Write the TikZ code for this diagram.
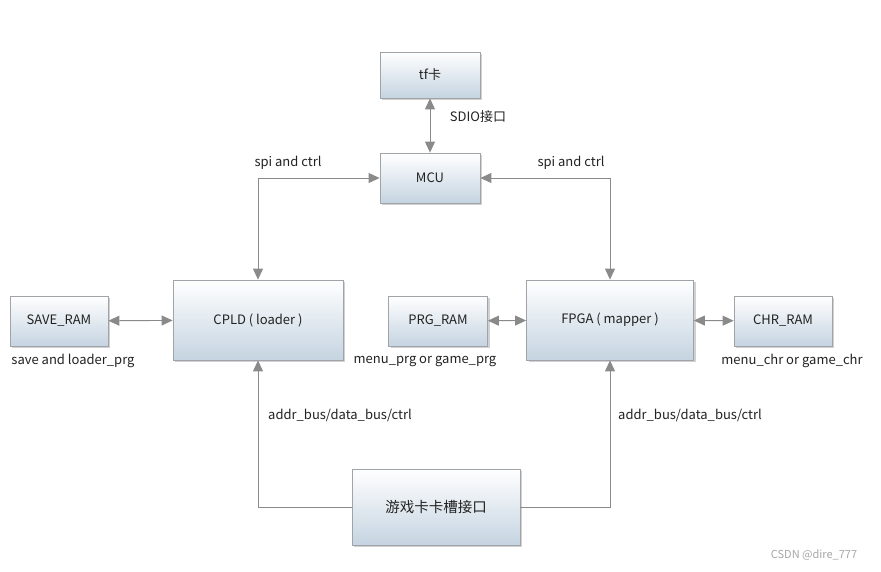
\documentclass[tikz,border=0pt]{standalone}
\usepackage{fontspec}
\setmainfont{Noto Sans CJK SC}
\usetikzlibrary{arrows.meta,shadows}
\definecolor{boxedge}{HTML}{A0A4A8}
\definecolor{boxbot}{HTML}{C5D4E1}
\definecolor{linec}{HTML}{8A8A8A}
\definecolor{txt}{HTML}{222222}
\tikzset{
  blk/.style={draw=boxedge, line width=0.8pt, top color=white, bottom color=boxbot,
    drop shadow={shadow xshift=2pt, shadow yshift=-2pt, fill=black, opacity=0.18},
    text=txt, font=\fontsize{13}{15}\selectfont, inner sep=0pt, anchor=center},
  conn/.style={draw=linec, line width=0.9pt},
  tip/.style={-{Triangle[length=11pt,width=10pt,fill=linec]}},
  btip/.style={{Triangle[length=11pt,width=10pt,fill=linec]}-{Triangle[length=11pt,width=10pt,fill=linec]}},
  lbl/.style={text=txt, font=\fontsize{13}{15}\selectfont, inner sep=0pt}
}
\begin{document}
\begin{tikzpicture}[x=1pt,y=-1pt]
\useasboundingbox (0,0) rectangle (881,571);
\node[blk, minimum width=100pt, minimum height=46pt] (tf) at (430,75) {tf卡};
\node[blk, minimum width=100pt, minimum height=50pt] (mcu) at (430,178) {MCU};
\node[blk, minimum width=98pt, minimum height=50pt] (save) at (59,321) {SAVE\_RAM};
\node[blk, minimum width=170pt, minimum height=80pt] (cpld) at (258,320) {CPLD ( loader )};
\node[blk, minimum width=99pt, minimum height=50pt] (prg) at (438,321) {PRG\_RAM};
\node[blk, minimum width=167pt, minimum height=80pt] (fpga) at (610,320) {FPGA ( mapper )};
\node[blk, minimum width=98pt, minimum height=50pt] (chr) at (783,321) {CHR\_RAM};
\node[blk, minimum width=168pt, minimum height=76pt, font=\fontsize{14.5}{16}\selectfont] (slot) at (436,507) {游戏卡卡槽接口};

\draw[conn, btip] (tf) -- (mcu);
\node[lbl] (sdio) at (478,117) {SDIO接口};

\draw[conn, btip] (mcu.west) -| (cpld.north);
\node[lbl] (spiL) at (288,163) {spi and ctrl};
\draw[conn, btip] (mcu.east) -| (fpga.north);
\node[lbl] (spiR) at (571,163) {spi and ctrl};

\draw[conn, btip] (save) -- (cpld);
\draw[conn, btip] (prg) -- (fpga);
\draw[conn, btip] (fpga) -- (chr);

\draw[conn, tip] (slot.west) -| (cpld.south);
\draw[conn, tip] (slot.east) -| (fpga.south);
\node[lbl] (abL) at (340,415) {addr\_bus/data\_bus/ctrl};
\node[lbl] (abR) at (690,415) {addr\_bus/data\_bus/ctrl};

\node[lbl] (l1) at (73,361) {save and loader\_prg};
\node[lbl] (l2) at (425,361) {menu\_prg or game\_prg};
\node[lbl] (l3) at (792,361) {menu\_chr or game\_chr};

\node[lbl, text=gray!70, font=\fontsize{11}{13}\selectfont] (wm) at (814,555) {CSDN @dire\_777};
\end{tikzpicture}
\end{document}
